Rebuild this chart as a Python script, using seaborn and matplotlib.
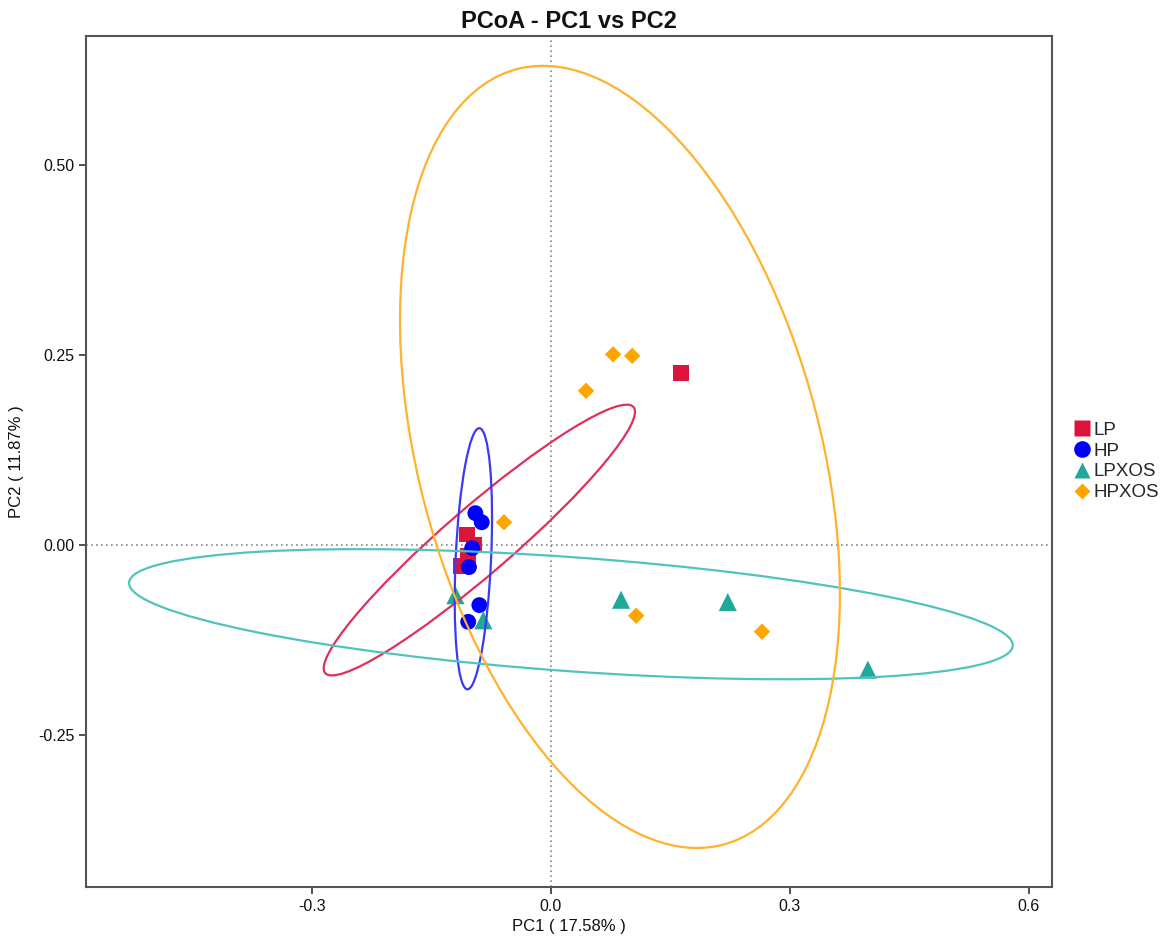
import matplotlib
matplotlib.use("Agg")
import matplotlib.pyplot as plt
from matplotlib.patches import Ellipse
from matplotlib.lines import Line2D
import seaborn as sns
import pandas as pd

# Sample coordinates
groups = ["LP", "HP", "LPXOS", "HPXOS"]
lp_x = [0.163, -0.105, -0.097, -0.104, -0.113]
lp_y = [0.226, 0.014, 0.000, -0.014, -0.028]
hp_x = [-0.095, -0.087, -0.099, -0.103, -0.090, -0.104]
hp_y = [0.042, 0.030, -0.004, -0.029, -0.079, -0.101]
lpxos_x = [-0.120, -0.085, 0.088, 0.222, 0.398]
lpxos_y = [-0.066, -0.099, -0.072, -0.075, -0.164]
hpxos_x = [0.078, 0.102, 0.044, -0.059, 0.107, 0.265]
hpxos_y = [0.251, 0.249, 0.203, 0.030, -0.093, -0.114]

# Confidence ellipses per group: centre, full axes and angle
ell_cx = [-0.090, -0.0975, 0.025, 0.0866]
ell_cy = [0.0066, -0.018, -0.091, 0.116]
ell_w = [0.522, 0.344, 1.113, 1.053]
ell_h = [0.086, 0.0445, 0.150, 0.506]
ell_angle = [42.2, 87.5, -4.3, 103.9]

x_ticks = [-0.3, 0.0, 0.3, 0.6]
x_ticklabels = ["-0.3", "0.0", "0.3", "0.6"]
y_ticks = [-0.25, 0.0, 0.25, 0.50]
y_ticklabels = ["-0.25", "0.00", "0.25", "0.50"]

colors = {"LP": "#DC143C", "HP": "#0000FF", "LPXOS": "#20A99B", "HPXOS": "#FFA500"}
ell_colors = {"LP": "#E0305A", "HP": "#3A3AF5", "LPXOS": "#50C4BC", "HPXOS": "#FFB22E"}
markers = {"LP": "s", "HP": "o", "LPXOS": "^", "HPXOS": "D"}
sizes = {"LP": 130, "HP": 130, "LPXOS": 170, "HPXOS": 70}

df = pd.concat([
    pd.DataFrame({"PC1": lp_x, "PC2": lp_y, "group": "LP"}),
    pd.DataFrame({"PC1": hp_x, "PC2": hp_y, "group": "HP"}),
    pd.DataFrame({"PC1": lpxos_x, "PC2": lpxos_y, "group": "LPXOS"}),
    pd.DataFrame({"PC1": hpxos_x, "PC2": hpxos_y, "group": "HPXOS"}),
], ignore_index=True)

sns.set_style("white")
plt.rcParams['font.family'] = ['Liberation Sans', 'DejaVu Sans']

fig = plt.figure(figsize=(11.7, 9.44), dpi=100)
ax = fig.add_axes([0.0735, 0.0604, 0.8255, 0.9015])

# reference lines through the origin
ax.axvline(0, color="#888888", linestyle=(0, (1, 2)), linewidth=1.2, zorder=1)
ax.axhline(0, color="#888888", linestyle=(0, (1, 2)), linewidth=1.2, zorder=1)

for g in groups:
    sub = df[df["group"] == g]
    sns.scatterplot(data=sub, x="PC1", y="PC2", color=colors[g], marker=markers[g],
                    s=sizes[g], edgecolor="none", ax=ax, zorder=3, legend=False)

for i, g in enumerate(groups):
    e = Ellipse((ell_cx[i], ell_cy[i]), ell_w[i], ell_h[i], angle=ell_angle[i],
                fill=False, edgecolor=ell_colors[g], linewidth=1.6, zorder=4)
    ax.add_patch(e)

ax.set_xlim(-0.584, 0.629)
ax.set_ylim(-0.45, 0.670)
ax.set_xticks(x_ticks)
ax.set_xticklabels(x_ticklabels)
ax.set_yticks(y_ticks)
ax.set_yticklabels(y_ticklabels)
ax.tick_params(axis="both", direction="out", length=5, width=1.3, color="#444444",
               labelsize=11.5, labelcolor="#111111", bottom=True, left=True)
for side in ax.spines.values():
    side.set_color("#555555")
    side.set_linewidth(1.5)

ax.set_xlabel("PC1 ( 17.58% )", fontsize=12, labelpad=4, color="#111111")
ax.set_ylabel("PC2 ( 11.87% )", fontsize=12, labelpad=10, color="#111111")
ax.set_title("PCoA - PC1 vs PC2", fontsize=17, fontweight="bold", color="#111111",
             family=["Liberation Sans Narrow", "Liberation Sans"], pad=6)

handles = [Line2D([0], [0], marker=markers[g], color="none", markerfacecolor=colors[g],
                  markeredgecolor="none", markersize=12 if g != "HPXOS" else 8, label=g)
           for g in groups]
ax.legend(handles=handles, loc="center left", bbox_to_anchor=(1.008, 0.5), frameon=False,
          fontsize=13.5, handletextpad=0.1, handlelength=1.0, labelspacing=0.2,
          borderaxespad=0.3)

plt.savefig("out.png", dpi=100)
